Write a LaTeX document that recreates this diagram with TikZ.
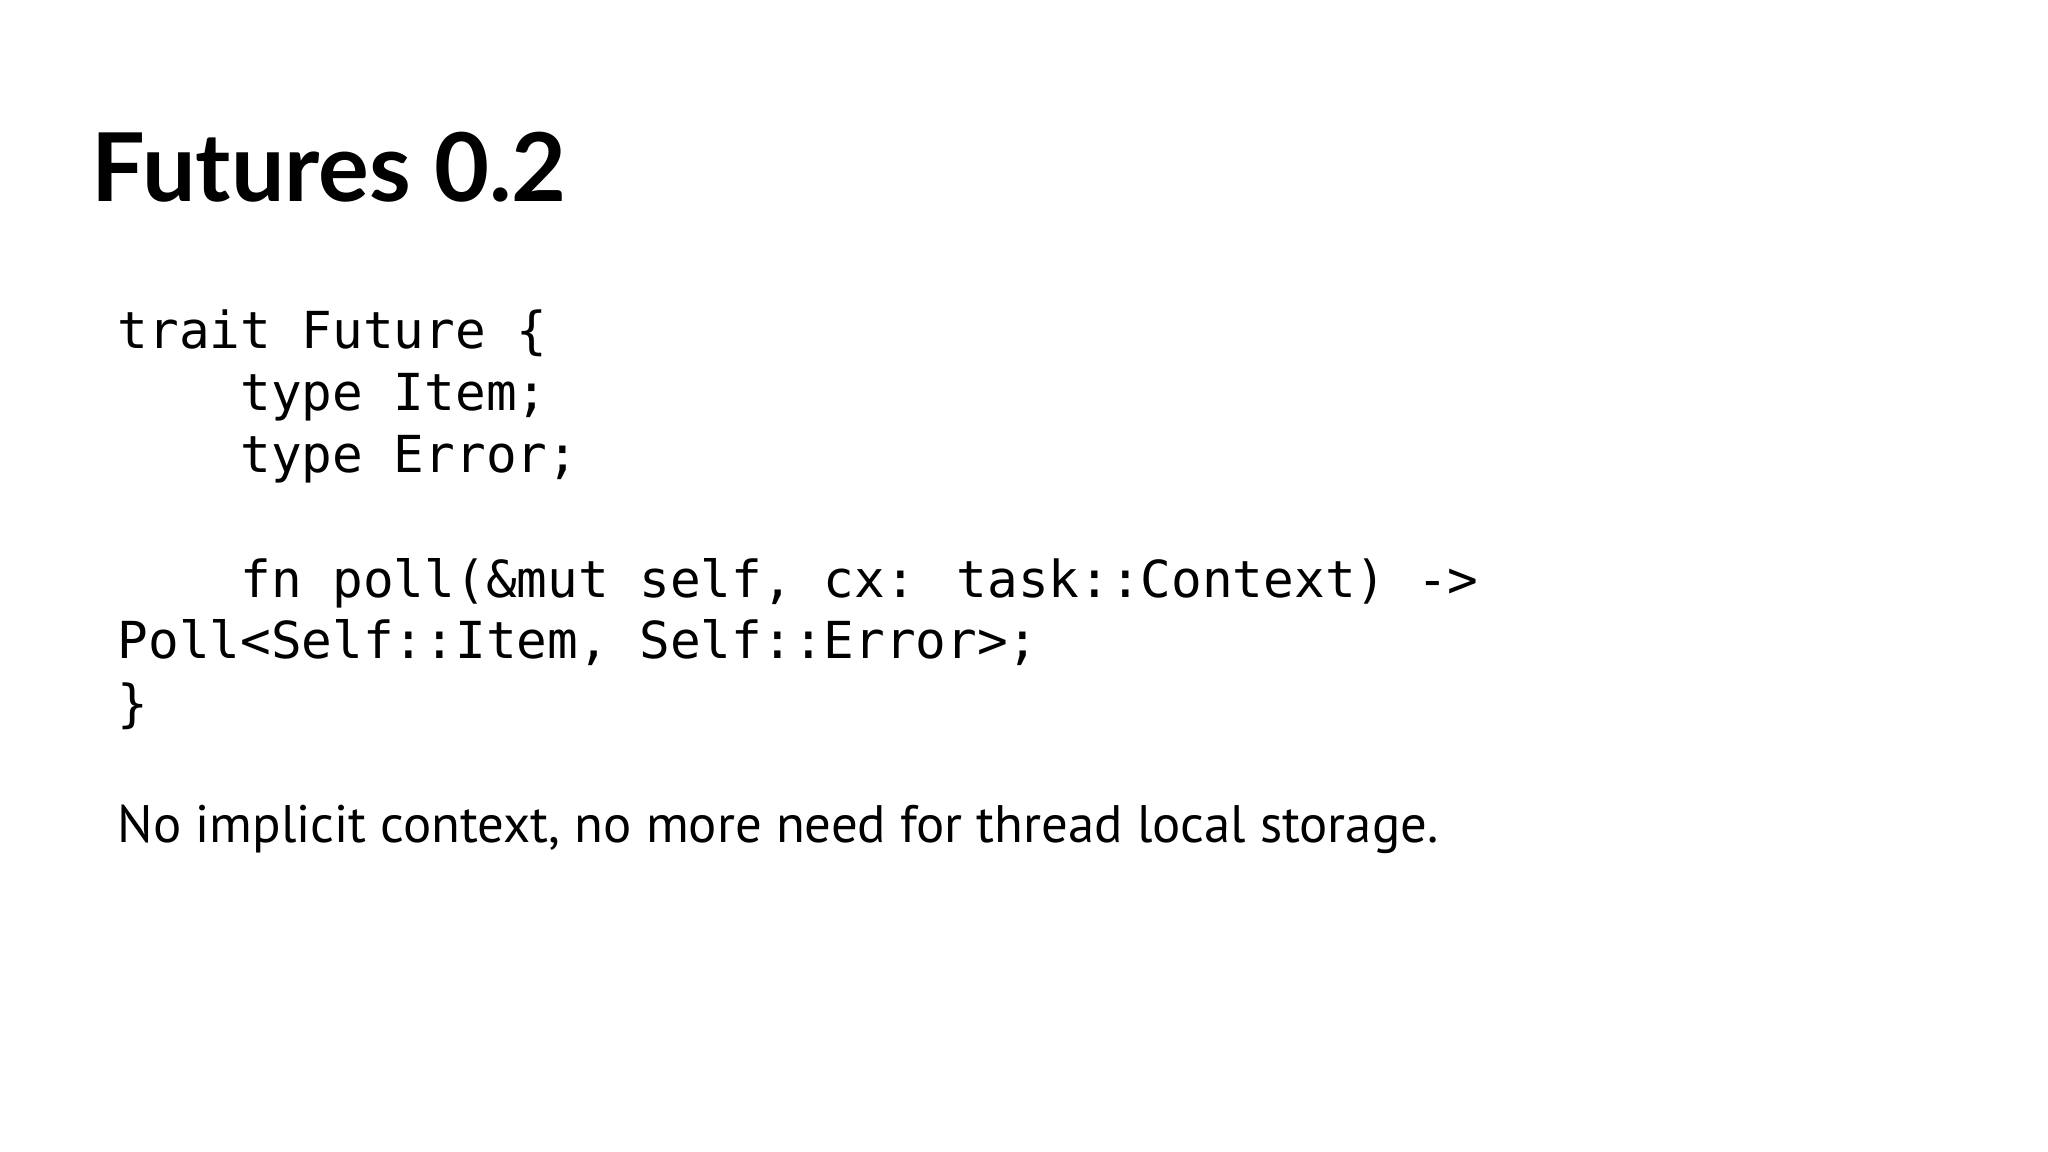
\documentclass[tikz,border=0pt]{standalone}
\usepackage{fontspec}
\newfontfamily\titlefont{Lato}
\newfontfamily\codefont{DejaVu Sans Mono}
\newfontfamily\bodyfont{PT Sans}
\begin{document}
\begin{tikzpicture}[x=0.01cm,y=-0.01cm,
  code/.style={anchor=base west,inner sep=0,font=\codefont\fontsize{14.5pt}{17pt}\selectfont}]
\useasboundingbox (0,0) rectangle (2048,1152);
\node[anchor=base west,inner sep=0,font=\titlefont\bfseries\fontsize{27pt}{30pt}\selectfont] (title) at (91,202) {Futures 0.2};
\node[code] (l1) at (117,349) {trait Future \{};
\node[code] (l2) at (117,411) {\ \ \ \ type Item;};
\node[code] (l3) at (117,473) {\ \ \ \ type Error;};
\node[code] (l5) at (117,597) {\ \ \ \ fn poll(\&mut self, cx: task::Context) ->};
\node[code] (l6) at (117,659) {Poll<Self::Item, Self::Error>;};
\node[code] (l7) at (117,721) {\}};
\node[anchor=base west,inner sep=0,font=\bodyfont\fontsize{15pt}{18pt}\selectfont] (note) at (117,842) {No implicit context, no more need for thread local storage.};
\end{tikzpicture}
\end{document}
